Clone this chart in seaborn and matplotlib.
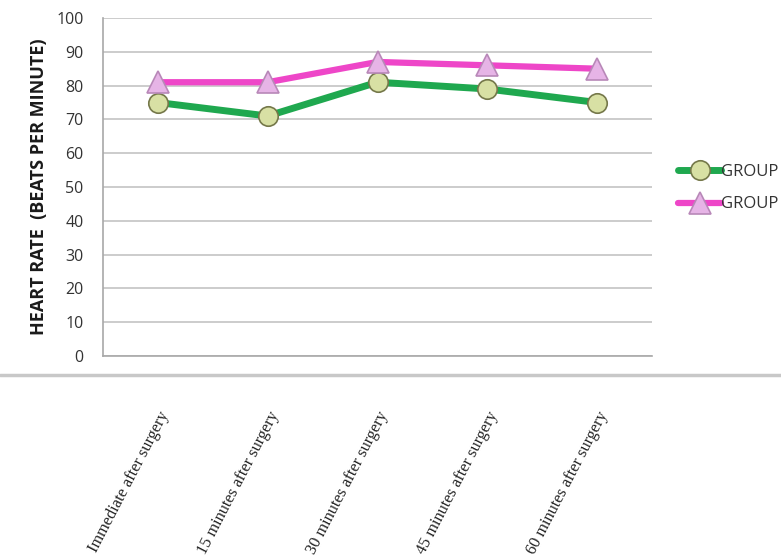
import matplotlib
matplotlib.use("Agg")
import matplotlib.pyplot as plt
from matplotlib.lines import Line2D
import seaborn as sns
import numpy as np

categories = ["Immediate after surgery", "15 minutes after surgery", "30 minutes after surgery",
              "45 minutes after surgery", "60 minutes after surgery"]
group1 = [75, 71, 81, 79, 75]
group2 = [81, 81, 87, 86, 85]
series_labels = ["GROUP", "GROUP"]
yticks = [0, 10, 20, 30, 40, 50, 60, 70, 80, 90, 100]

sns.set_style("white")
plt.rcParams['font.family'] = ['Open Sans', 'DejaVu Sans']

fig = plt.figure(figsize=(7.81, 5.58), dpi=100)
ax = fig.add_axes([103/781, 1-356/558, 549/781, 338/558])

x = np.arange(len(categories))
sns.lineplot(x=x, y=group1, ax=ax, color="#1fa84f", lw=5, marker="o", markersize=14,
             markerfacecolor="#d8e0a4", markeredgecolor="#75784a", markeredgewidth=1.2,
             label=series_labels[0], zorder=3)
sns.lineplot(x=x, y=group2, ax=ax, color="#ee46c8", lw=4.5, marker="^", markersize=16,
             markerfacecolor="#e6b4e6", markeredgecolor="#b888b8", markeredgewidth=1.2,
             label=series_labels[1], zorder=4)

ax.set_xlim(-0.5, len(categories) - 0.5)
ax.set_ylim(0, 100)
ax.set_yticks(yticks)
ax.set_yticklabels([str(v) for v in yticks], fontsize=11.5, color="#333333")
ax.set_xticks(x)
ax.set_xticklabels(categories, rotation=62.5, ha="right", va="top", rotation_mode="anchor",
                   fontsize=11.7, family="Liberation Serif", color="#222222")
ax.tick_params(axis="both", length=0)
ax.tick_params(axis="y", pad=14)
ax.tick_params(axis="x", pad=38)
ax.yaxis.grid(True, color="#c4c4c4", lw=1.2)
ax.xaxis.grid(False)
for s in ["top", "right"]:
    ax.spines[s].set_visible(False)
for s in ["left", "bottom"]:
    ax.spines[s].set_color("#a8a8a8")
    ax.spines[s].set_linewidth(1.2)

ax.set_ylabel("HEART RATE  (BEATS PER MINUTE)", fontsize=13, fontweight="bold", color="#1a1a1a",
              labelpad=6)

# separator line across the figure
fig.add_artist(Line2D([0, 1], [1 - 375/558, 1 - 375/558], transform=fig.transFigure,
                      color="#c8c8c8", lw=2.5))

leg = ax.legend(loc="center left", bbox_to_anchor=(1.035, 0.497), frameon=False, fontsize=12,
                handlelength=2.6, handletextpad=0.0, labelspacing=1.0, borderaxespad=0)
for t in leg.get_texts():
    t.set_color("#333333")

fig.savefig("out.png", dpi=100)
